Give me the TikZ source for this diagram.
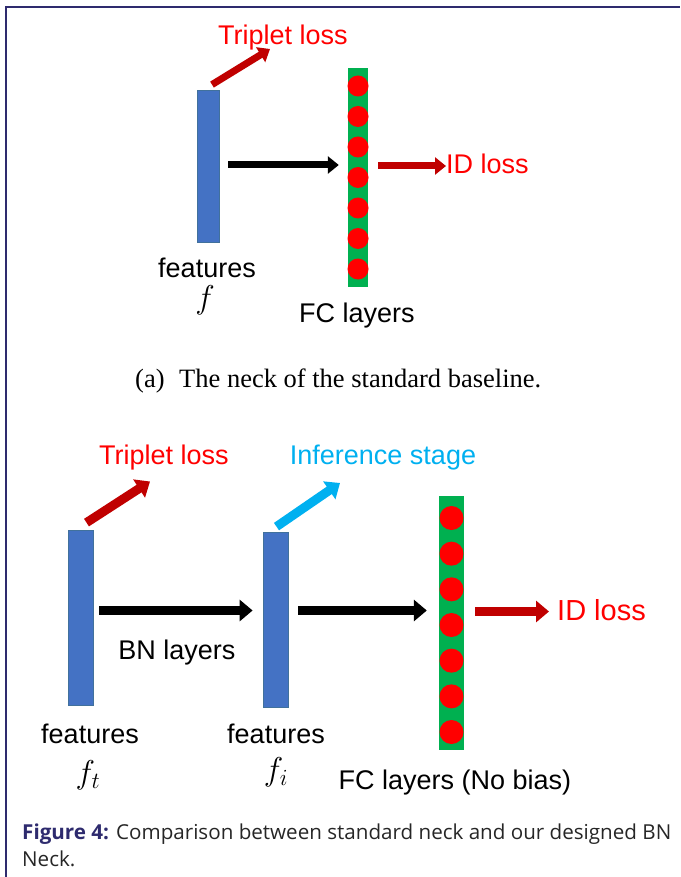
\RequirePackage{fix-cm}
\documentclass[tikz,border=0pt]{standalone}
\usepackage{fontspec}
\setmainfont{Liberation Sans}
\newfontfamily\subcapfont{Liberation Serif}
\newfontfamily\capfont{Open Sans}
\usetikzlibrary{arrows.meta,calc}

\definecolor{barblue}{HTML}{4472C4}
\definecolor{baredge}{HTML}{41719C}
\definecolor{fcgreen}{HTML}{00B050}
\definecolor{neuron}{HTML}{FF0000}
\definecolor{lossred}{HTML}{C00000}
\definecolor{labelred}{HTML}{FF0000}
\definecolor{infcyan}{HTML}{00B0F0}
\definecolor{navy}{HTML}{2E2B6E}
\definecolor{captext}{HTML}{262626}

\tikzset{
  lbl/.style={inner sep=0pt, font=\fontsize{27}{32}\selectfont},
  mathlbl/.style={inner sep=0pt, font=\fontsize{33}{38}\selectfont},
  featbar/.style={rectangle, fill=barblue, draw=baredge, line width=0.8pt, inner sep=0pt},
  fcbar/.style={rectangle, fill=fcgreen, inner sep=0pt},
  thinarrow/.style={line width=7pt, -{Triangle[length=11pt,width=17pt]}},
  fatarrow/.style={line width=9pt, -{Triangle[length=13pt,width=21pt]}},
  captionline/.style={inner sep=0pt, anchor=base west, text=captext, font=\capfont\fontsize{20.6}{26}\selectfont},
}

\begin{document}
\begin{tikzpicture}[x=1pt,y=-1pt]
\useasboundingbox (0,0) rectangle (680,877);

% frame of the figure box
\draw[navy, line width=2pt] (5.5,877) -- (5.5,7) -- (680,7);

% ---------- (a) standard neck ----------
\node[featbar, minimum width=22pt, minimum height=152pt] (fa) at (208,166) {};
\node[fcbar, minimum width=20pt, minimum height=219pt] (fc) at (358,177.5) {};
\foreach \k in {0,...,6}
  \fill[neuron] (358,86+30.5*\k) circle (10.5pt);

\coordinate (tripA) at (270,49);
\node[lbl, text=labelred] (tripAtxt) at (283,38) {Triplet loss};
\node[lbl, text=labelred, anchor=west] (idA) at (446,164) {ID loss};
\node[lbl] (featA) at (207,268) {features};
\node[mathlbl] (fA) at (205,300) {$f$};
\node[lbl] (fcA) at (357,316) {FC layers};

\draw[thinarrow, lossred] ($(fa.north)+(4,-5)$) -- (tripA);
\draw[thinarrow, black] ($(fa.east)+(9,-1)$) -- ($(fa.east -| fc.west)+(-9,-1)$);
\draw[thinarrow, lossred] ($(fa.east -| fc.east)+(10,0)$) -- (idA.west |- fa.east);

\node[inner sep=0pt, anchor=west, font=\subcapfont\fontsize{26.5}{30}\selectfont] (subcapA) at (135,381)
  {(a)\hspace{0.3em} The neck of the standard baseline.};

% ---------- (b) BN neck ----------
\node[featbar, minimum width=25pt, minimum height=175pt] (ft) at (80.5,617.5) {};
\node[featbar, minimum width=25pt, minimum height=175pt] (fi) at (275.5,619.5) {};
\node[fcbar, minimum width=25pt, minimum height=254pt] (fcb) at (451.5,623) {};
\foreach \k in {0,...,6}
  \fill[neuron] (451.5,518+35.67*\k) circle (12pt);

\coordinate (tripB) at (150,481.5);
\coordinate (infB) at (340,483);
\node[lbl, text=labelred] (tripBtxt) at (164,458) {Triplet loss};
\node[lbl, text=infcyan] (infBtxt) at (383,458) {Inference stage};
\node[lbl, text=labelred, anchor=west, font=\fontsize{29}{34}\selectfont] (idB) at (557,610) {ID loss};
\node[lbl] (bn) at (177,653) {BN layers};
\node[lbl] (featT) at (90,734) {features};
\node[lbl] (featI) at (276,734) {features};
\node[mathlbl] (fT) at (88,775) {$f_t$};
\node[mathlbl] (fI) at (276,772) {$f_i$};
\node[lbl] (fcB) at (455,783) {FC layers (No bias)};

\draw[fatarrow, lossred] ($(ft.north)+(6,-7)$) -- (tripB);
\draw[fatarrow, infcyan] ($(fi.north)+(1,-5)$) -- (infB);
\draw[fatarrow, black] ($(ft.east)+(6,-7)$) -- ($(ft.east -| fi.west)+(-10,-7)$);
\draw[fatarrow, black] ($(ft.east -| fi.east)+(10,-7)$) -- ($(ft.east -| fcb.west)+(-12,-7)$);
\draw[fatarrow, lossred] ($(ft.east -| fcb.east)+(11,-6)$) -- ($(ft.east -| idB.west)+(-8,-6)$);

% ---------- caption ----------
\node[captionline] (cap1) at (22,839)
  {\textcolor{navy}{\bfseries Figure 4:} Comparison between standard neck and our designed BN};
\node[captionline] (cap2) at (22,866) {Neck.};
\end{tikzpicture}
\end{document}
